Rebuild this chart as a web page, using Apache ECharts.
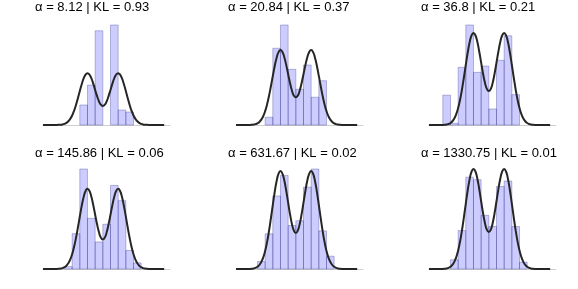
<!DOCTYPE html>
<html>
<head>
<meta charset="utf-8">
<script src="https://cdn.jsdelivr.net/npm/echarts@6/dist/echarts.min.js"></script>
<style>html,body{margin:0;padding:0;background:#fff}#c{width:578px;height:289px}</style>
</head>
<body>
<div id="c"></div>
<script>
// ---- data ----
const binEdges = [-3, -2.5, -2, -1.5, -1, -0.5, 0, 0.5, 1, 1.5, 2, 2.5];
const hist1 = [0, 0, 0, 0.142, 0.283, 0.668, 0, 0.709, 0.106, 0.092, 0];
const hist2 = [0, 0, 0.038, 0.376, 0.490, 0.273, 0.175, 0.294, 0.136, 0.217, 0];
const hist3 = [0.119, 0.007, 0.230, 0.399, 0.210, 0.235, 0.064, 0.258, 0.356, 0.121, 0];
const hist4 = [0, 0.011, 0.162, 0.458, 0.232, 0.124, 0.205, 0.383, 0.313, 0.085, 0.028];
const hist5 = [0, 0.028, 0.132, 0.274, 0.351, 0.163, 0.181, 0.307, 0.375, 0.143, 0.048];
const hist6 = [0, 0.034, 0.141, 0.337, 0.328, 0.197, 0.156, 0.303, 0.323, 0.156, 0.025];
const alphas = ['8.12', '20.84', '36.8', '145.86', '631.67', '1330.75'];
const kls = ['0.93', '0.37', '0.21', '0.06', '0.02', '0.01'];
const curveX = [-3.9, -3.5, -3.25, -3, -2.875, -2.75, -2.625, -2.5, -2.375, -2.25, -2.125, -2, -1.875, -1.75, -1.625, -1.5, -1.375, -1.25, -1.125, -1, -0.875, -0.75, -0.625, -0.5, -0.375, -0.25, -0.125, 0, 0.125, 0.25, 0.375, 0.5, 0.625, 0.75, 0.875, 1, 1.125, 1.25, 1.375, 1.5, 1.625, 1.75, 1.875, 2, 2.125, 2.25, 2.375, 2.5, 2.625, 2.75, 2.875, 3, 3.25, 3.5, 4.0];
const curveY = [0, 0, 0.0001, 0.0004, 0.001, 0.0021, 0.0042, 0.0082, 0.015, 0.0262, 0.0432, 0.0677, 0.1006, 0.1418, 0.1896, 0.2404, 0.2892, 0.330, 0.3573, 0.3671, 0.3581, 0.332, 0.2934, 0.2486, 0.2046, 0.1679, 0.1438, 0.1354, 0.1438, 0.1679, 0.2046, 0.2486, 0.2934, 0.332, 0.3581, 0.3671, 0.3573, 0.330, 0.2892, 0.2404, 0.1896, 0.1418, 0.1006, 0.0677, 0.0432, 0.0262, 0.015, 0.0082, 0.0042, 0.0021, 0.001, 0.0004, 0.0001, 0, 0];
const xMin = -3.9, xMax = 4.38;

const hists = [hist1, hist2, hist3, hist4, hist5, hist6];
const chart = echarts.init(document.getElementById('c'), null, {renderer: 'canvas'});

const grids = [], xAxes = [], yAxes = [], series = [], titles = [];
const colLeft = [43, 236, 429], rowTop = [25, 169], titleTop = [1, 147];
hists.forEach((h, i) => {
  const col = i % 3, row = Math.floor(i / 3);
  grids.push({left: colLeft[col], top: rowTop[row], width: 127, height: 100});
  xAxes.push({type: 'value', gridIndex: i, min: xMin, max: xMax,
    axisLine: {show: true, lineStyle: {color: '#cfcfcf', width: 1}},
    axisTick: {show: false}, axisLabel: {show: false}, splitLine: {show: false}});
  yAxes.push({type: 'value', gridIndex: i, min: 0, max: 'dataMax', show: false, splitLine: {show: false}});
  const data = h.map((v, k) => [binEdges[k], binEdges[k + 1], v]).filter(d => d[2] > 0);
  series.push({type: 'custom', xAxisIndex: i, yAxisIndex: i, data: data,
    encode: {x: [0, 1], y: 2},
    renderItem: function (params, api) {
      const p0 = api.coord([api.value(0), api.value(2)]);
      const p1 = api.coord([api.value(1), 0]);
      return {type: 'rect', shape: {x: p0[0], y: p0[1], width: p1[0] - p0[0], height: p1[1] - p0[1]},
        style: {fill: 'rgba(0,0,255,0.2)', stroke: 'rgba(40,40,130,0.3)', lineWidth: 1}};
    }, silent: true, z: 2});
  series.push({type: 'line', xAxisIndex: i, yAxisIndex: i, data: curveX.map((x, k) => [x, curveY[k]]),
    smooth: true, showSymbol: false, lineStyle: {color: '#262626', width: 2}, silent: true, z: 3});
  titles.push({text: 'α = ' + alphas[i] + ' | KL = ' + kls[i], left: colLeft[col] - 8, top: titleTop[row],
    padding: 0, textStyle: {fontFamily: 'Liberation Sans, Arial, sans-serif', fontSize: 13, fontWeight: 'normal', color: '#000'}});
});

chart.setOption({animation: false, title: titles, grid: grids, xAxis: xAxes, yAxis: yAxes, series: series});
</script>
</body>
</html>
